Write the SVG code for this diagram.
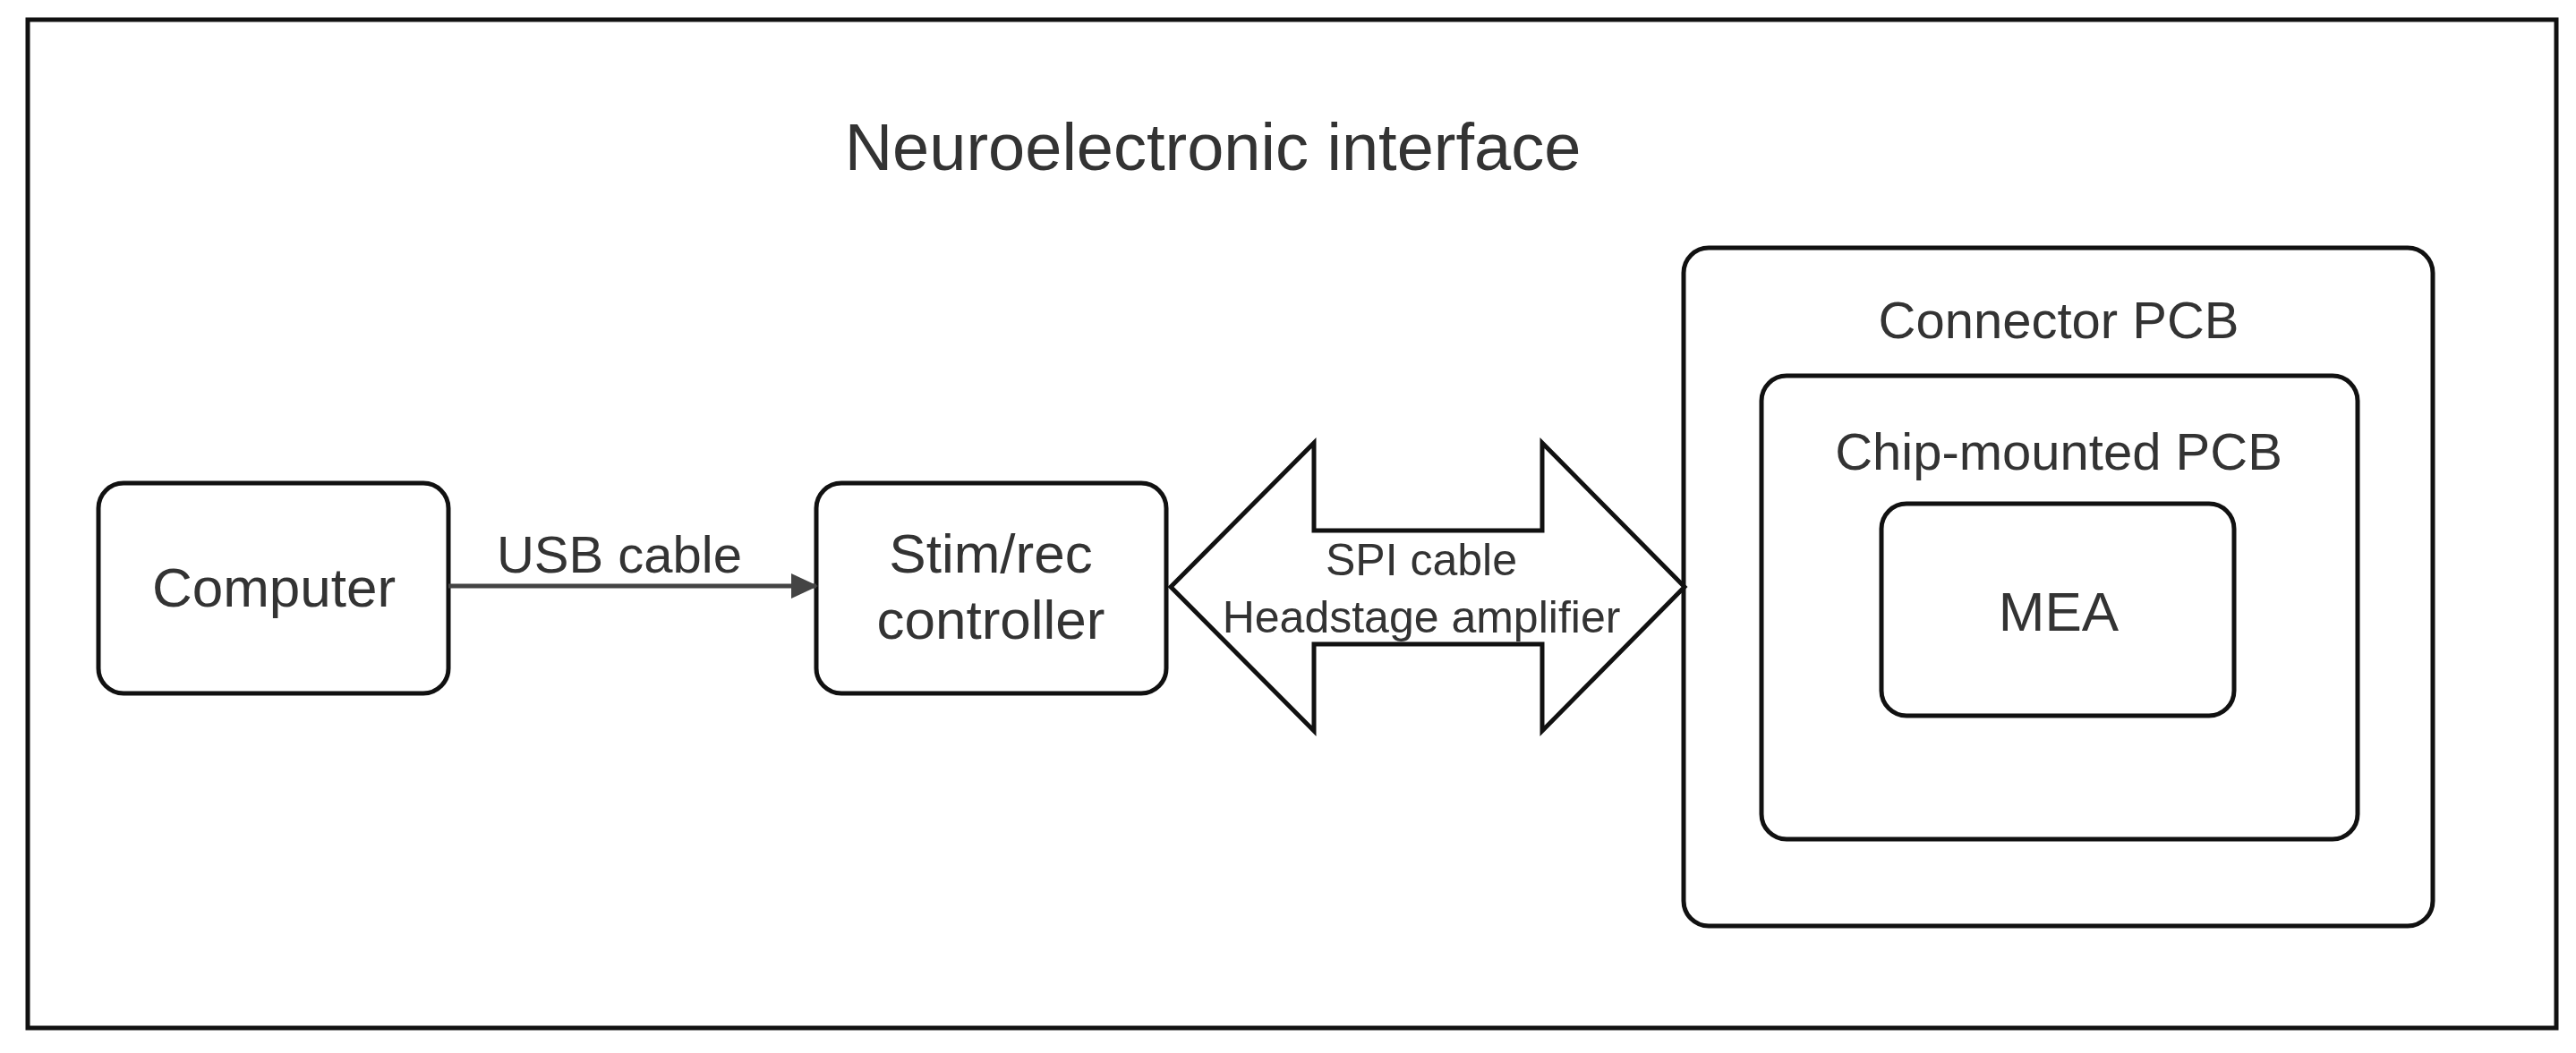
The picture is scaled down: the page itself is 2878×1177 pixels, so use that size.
<svg xmlns="http://www.w3.org/2000/svg" width="2878" height="1177" viewBox="0 0 2878 1177">
<style>
.b{fill:#fff;stroke:#111;stroke-width:5}
.t{font-family:"Liberation Sans",Arial,sans-serif;fill:#333;text-anchor:middle}
</style>
<defs><marker id="ah" markerWidth="30" markerHeight="28" refX="28" refY="14" orient="auto" markerUnits="userSpaceOnUse" viewBox="0 0 30 28"><path d="M0,0L30,14L0,28z" fill="#444"/></marker></defs>
<rect width="2878" height="1177" fill="#fff"/>
<g id="frame"><rect x="31" y="22" width="2825" height="1127" fill="none" stroke="#111" stroke-width="5"/>
<text class="t" x="1355" y="190" font-size="74">Neuroelectronic interface</text></g>
<g id="computer"><rect class="b" x="110" y="540" width="391" height="235" rx="28"/><text class="t" x="306" y="678" font-size="62">Computer</text></g>
<g id="controller"><rect class="b" x="912" y="540" width="391" height="235" rx="28"/><text class="t" x="1107" y="640" font-size="62">Stim/rec</text><text class="t" x="1107" y="714" font-size="62">controller</text></g>
<g id="connector"><rect class="b" x="1881" y="277" width="837" height="758" rx="28"/><text class="t" x="2300" y="378" font-size="58">Connector PCB</text></g>
<g id="chip"><rect class="b" x="1968" y="420" width="666" height="518" rx="28"/><text class="t" x="2300" y="525" font-size="58">Chip-mounted PCB</text></g>
<g id="mea"><rect class="b" x="2102" y="563" width="394" height="237" rx="28"/><text class="t" x="2300" y="705" font-size="62">MEA</text></g>
<g id="connectors">
<line x1="501" y1="655" x2="912" y2="655" stroke="#444" stroke-width="5" marker-end="url(#ah)"/>
<text class="t" x="692" y="640" font-size="58">USB cable</text>
<path d="M1308,656L1468,495L1468,593L1723,593L1723,495L1882,656L1723,817L1723,720L1468,720L1468,817Z" fill="#fff" stroke="#111" stroke-width="5" stroke-linejoin="miter"/>
<text class="t" x="1588" y="643" font-size="50" fill="#555">SPI cable</text>
<text class="t" x="1588" y="707" font-size="50" fill="#555">Headstage amplifier</text>
</g>
</svg>
